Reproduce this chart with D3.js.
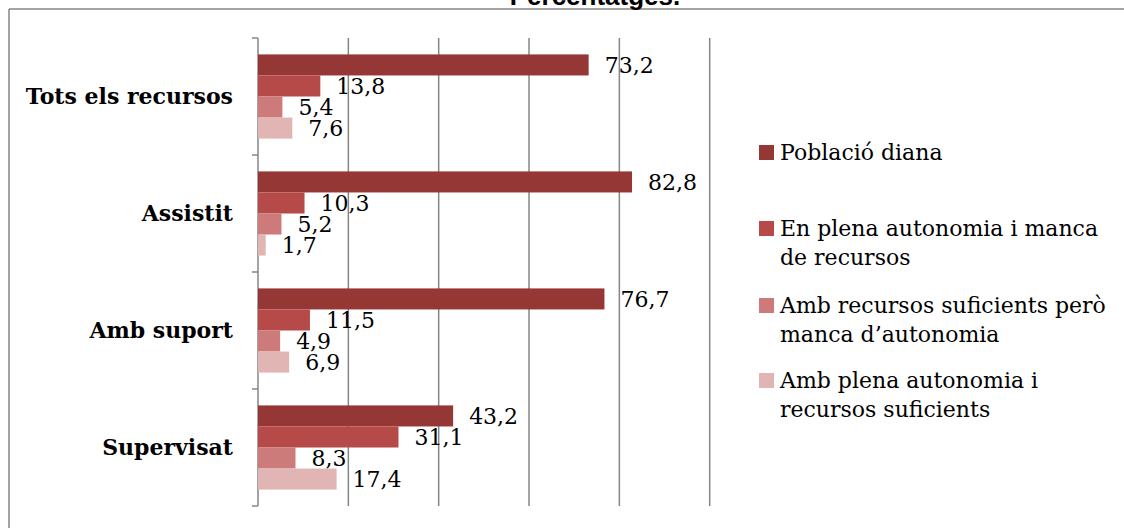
<!DOCTYPE html>
<html>
<head>
<meta charset="utf-8">
<script src="https://cdn.jsdelivr.net/npm/d3@7"></script>
<style>
  body { margin: 0; background: #fff; }
  svg { display: block; }
</style>
</head>
<body>
<svg id="chart" width="1124" height="528"></svg>
<script>
var categories = ["Tots els recursos", "Assistit", "Amb suport", "Supervisat"];
var seriesNames = [
  "Població diana",
  "En plena autonomia i manca de recursos",
  "Amb recursos suficients però manca d\u2019autonomia",
  "Amb plena autonomia i recursos suficients"
];
var poblacioDiana = [73.2, 82.8, 76.7, 43.2];
var plenaMancaRecursos = [13.8, 10.3, 11.5, 31.1];
var recursosMancaAutonomia = [5.4, 5.2, 4.9, 8.3];
var plenaRecursosSuficients = [7.6, 1.7, 6.9, 17.4];
var gridTicks = [0, 20, 40, 60, 80, 100];

var seriesValues = [poblacioDiana, plenaMancaRecursos, recursosMancaAutonomia, plenaRecursosSuficients];
var colors = ["#953735", "#b64a48", "#cc7b7a", "#e2b5b5"];
var legendLines = [
  ["Població diana"],
  ["En plena autonomia i manca", "de recursos"],
  ["Amb recursos suficients però", "manca d\u2019autonomia"],
  ["Amb plena autonomia i", "recursos suficients"]
];
var serif = "'DejaVu Serif', serif";

var svg = d3.select("#chart");

// frame and title (title is cut by the top edge, as in the source)
svg.append("line").attr("x1", 9).attr("x2", 1124).attr("y1", 9).attr("y2", 9)
  .attr("stroke", "#868686").attr("stroke-width", 1.5);
svg.append("line").attr("x1", 9).attr("x2", 9).attr("y1", 9).attr("y2", 528)
  .attr("stroke", "#868686").attr("stroke-width", 1.5);
svg.append("text").attr("x", 595).attr("y", 5).attr("text-anchor", "middle")
  .style("font-family", "'Liberation Sans', Arial, sans-serif")
  .style("font-weight", "bold").style("font-size", "26px")
  .text("Percentatges.");

var x = d3.scaleLinear().domain([0, 100]).range([258, 709.7]);
var y0 = d3.scaleBand().domain(categories).range([38, 506]);
var y1 = d3.scaleBand().domain(d3.range(seriesValues.length))
  .range([0, y0.bandwidth()]).paddingOuter(0.78);

// grid
svg.append("g").selectAll("line").data(gridTicks.slice(1)).join("line")
  .attr("x1", function (d) { return x(d); }).attr("x2", function (d) { return x(d); })
  .attr("y1", 38).attr("y2", 506)
  .attr("stroke", "#868686").attr("stroke-width", 1.5);

// category axis
var yAxis = svg.append("g").attr("transform", "translate(" + x(0) + ",0)");
yAxis.append("line").attr("x1", 0).attr("x2", 0).attr("y1", 38).attr("y2", 506)
  .attr("stroke", "#868686").attr("stroke-width", 1.5);
var bounds = categories.map(function (c) { return y0(c); }).concat([y0.range()[1]]);
yAxis.selectAll("line.tick").data(bounds).join("line").attr("class", "tick")
  .attr("x1", -6).attr("x2", 0)
  .attr("y1", function (d) { return d; }).attr("y2", function (d) { return d; })
  .attr("stroke", "#868686").attr("stroke-width", 1.5);
yAxis.selectAll("text").data(categories).join("text")
  .attr("x", -25).attr("y", function (d) { return y0(d) + y0.bandwidth() / 2; })
  .attr("dy", "0.35em").attr("text-anchor", "end")
  .style("font-family", serif).style("font-weight", "bold").style("font-size", "22px")
  .text(function (d) { return d; });

// bars
var groups = svg.append("g").selectAll("g").data(categories).join("g")
  .attr("transform", function (d) { return "translate(0," + y0(d) + ")"; });
groups.each(function (cat, ci) {
  var g = d3.select(this);
  var rows = seriesValues.map(function (vals, si) { return { si: si, v: vals[ci] }; });
  g.selectAll("rect").data(rows).join("rect")
    .attr("x", x(0))
    .attr("y", function (d) { return y1(d.si); })
    .attr("width", function (d) { return x(d.v) - x(0); })
    .attr("height", y1.bandwidth())
    .attr("fill", function (d) { return colors[d.si]; });
  g.selectAll("text").data(rows).join("text")
    .attr("x", function (d) { return x(d.v) + 16; })
    .attr("y", function (d) { return y1(d.si) + y1.bandwidth() / 2; })
    .attr("dy", "0.35em")
    .style("font-family", serif).style("font-size", "22px")
    .text(function (d) { return d3.format(".1f")(d.v).replace(".", ","); });
});

// legend
var legendY = [152, 228, 305, 380];
var legend = svg.append("g").selectAll("g").data(seriesNames).join("g")
  .attr("transform", function (d, i) { return "translate(759," + legendY[i] + ")"; });
legend.append("rect").attr("x", 0).attr("y", -7).attr("width", 15).attr("height", 15)
  .attr("fill", function (d, i) { return colors[i]; });
legend.each(function (d, i) {
  d3.select(this).selectAll("text").data(legendLines[i]).join("text")
    .attr("x", 21).attr("y", function (l, j) { return j * 29; })
    .attr("dy", "0.35em")
    .style("font-family", serif).style("font-size", "22px")
    .text(function (l) { return l; });
});
</script>
</body>
</html>
